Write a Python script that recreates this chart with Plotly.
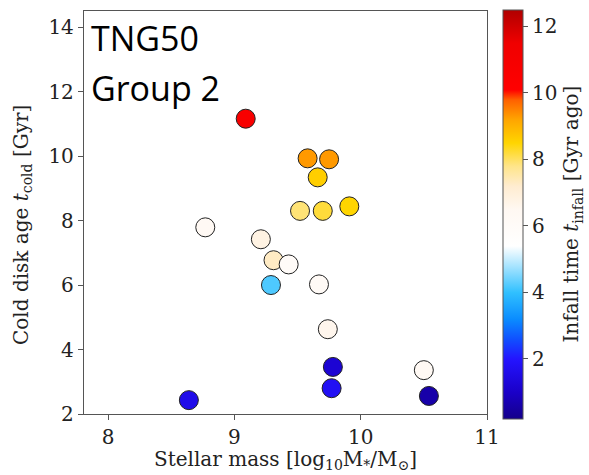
import plotly.graph_objects as go

# Data
stellar_mass = [9.09, 9.58, 9.75, 9.66, 9.52, 9.70, 9.91, 8.77, 9.21, 9.31,
                9.43, 9.29, 9.67, 9.74, 9.78, 9.77, 10.50, 10.54, 8.64]
cold_disk_age = [11.16, 9.93, 9.90, 9.34, 8.30, 8.30, 8.44, 7.79, 7.42, 6.77,
                 6.64, 6.00, 6.02, 4.63, 3.46, 2.80, 3.36, 2.56, 2.43]
infall_time = [10.8, 9.3, 9.3, 8.6, 7.9, 8.2, 8.5, 6.3, 6.8, 7.3,
               6.0, 4.2, 6.2, 6.6, 1.2, 1.8, 6.3, 0.6, 1.6]

cmin, cmax = 0.2, 12.5
x_ticks = [8, 9, 10, 11]
y_ticks = [2, 4, 6, 8, 10, 12, 14]
cb_ticks = [2, 4, 6, 8, 10, 12]

stops = [
    (0.2, "#14008a"), (1.0, "#1a00c8"), (2.0, "#2414ff"), (2.6, "#1050ff"),
    (3.2, "#0a8cff"), (4.0, "#30c0ff"), (4.8, "#a8e4ff"), (5.4, "#ffffff"),
    (6.5, "#fff8f2"), (7.2, "#ffecd0"), (7.8, "#ffe58a"), (8.5, "#ffd500"),
    (9.2, "#ffa500"), (9.8, "#ff6000"), (10.0, "#ff2000"), (10.1, "#ff0000"),
    (11.5, "#f00000"), (12.5, "#b00000"),
]
colorscale = [[(v - cmin) / (cmax - cmin), c] for v, c in stops]

serif = "DejaVu Serif"
axcol = "#555555"
txtcol = "#222222"

fig = go.Figure()
fig.add_trace(go.Scatter(
    x=stellar_mass, y=cold_disk_age, mode="markers",
    marker=dict(
        size=19, color=infall_time, colorscale=colorscale, cmin=cmin, cmax=cmax,
        line=dict(color="#222222", width=1),
        colorbar=dict(
            thickness=20, lenmode="pixels", len=409, xpad=0, ypad=0,
            x=1.0397, xanchor="left", xref="paper",
            y=0.496, yanchor="middle", yref="paper",
            outlinecolor=axcol, outlinewidth=1,
            tickvals=cb_ticks, ticks="outside", ticklen=5, tickcolor=axcol,
            tickfont=dict(family=serif, size=20, color=txtcol),
            title=dict(text="Infall time <i>t</i><sub>infall</sub> [Gyr ago]",
                       side="right", font=dict(family=serif, size=20, color=txtcol)),
        ),
    ),
    showlegend=False,
))

fig.update_xaxes(
    range=[7.81, 11.0], tickvals=x_ticks, ticks="outside", ticklen=5,
    tickcolor=axcol, showline=True, linecolor=axcol, linewidth=1.3, mirror=True,
    showgrid=False, zeroline=False, automargin=False,
    tickfont=dict(family=serif, size=20, color=txtcol),
)
fig.update_yaxes(
    range=[2, 14.5], tickvals=y_ticks, ticks="outside", ticklen=5,
    tickcolor=axcol, showline=True, linecolor=axcol, linewidth=1.3, mirror=True,
    showgrid=False, zeroline=False, automargin=False,
    tickfont=dict(family=serif, size=20, color=txtcol),
)

# axis titles
fig.add_annotation(text="Stellar mass [log<sub>10</sub>M<sub>*</sub>/M<sub>\u2299</sub>]",
                   xref="paper", yref="paper", x=0.501, y=-0.114,
                   xanchor="center", yanchor="middle", showarrow=False,
                   font=dict(family=serif, size=20, color=txtcol))
fig.add_annotation(text="Cold disk age <i>t</i><sub>cold</sub> [Gyr]",
                   xref="paper", yref="paper", x=-0.1538, y=0.469, textangle=-90,
                   xanchor="center", yanchor="middle", showarrow=False,
                   font=dict(family=serif, size=20, color=txtcol))

# panel label
fig.add_annotation(text="TNG50", xref="paper", yref="paper", x=0.012, y=0.932,
                   xanchor="left", yanchor="middle", showarrow=False,
                   font=dict(family="Open Sans", size=34, color="black"))
fig.add_annotation(text="Group 2", xref="paper", yref="paper", x=0.012, y=0.808,
                   xanchor="left", yanchor="middle", showarrow=False,
                   font=dict(family="Open Sans", size=34, color="black"))

fig.update_layout(
    width=589, height=475, margin=dict(l=84, r=102, t=11, b=61, autoexpand=False),
    paper_bgcolor="white", plot_bgcolor="white",
)
fig.write_html("out.html", config={"displayModeBar": False},
               post_script="document.body.style.margin='0';")
